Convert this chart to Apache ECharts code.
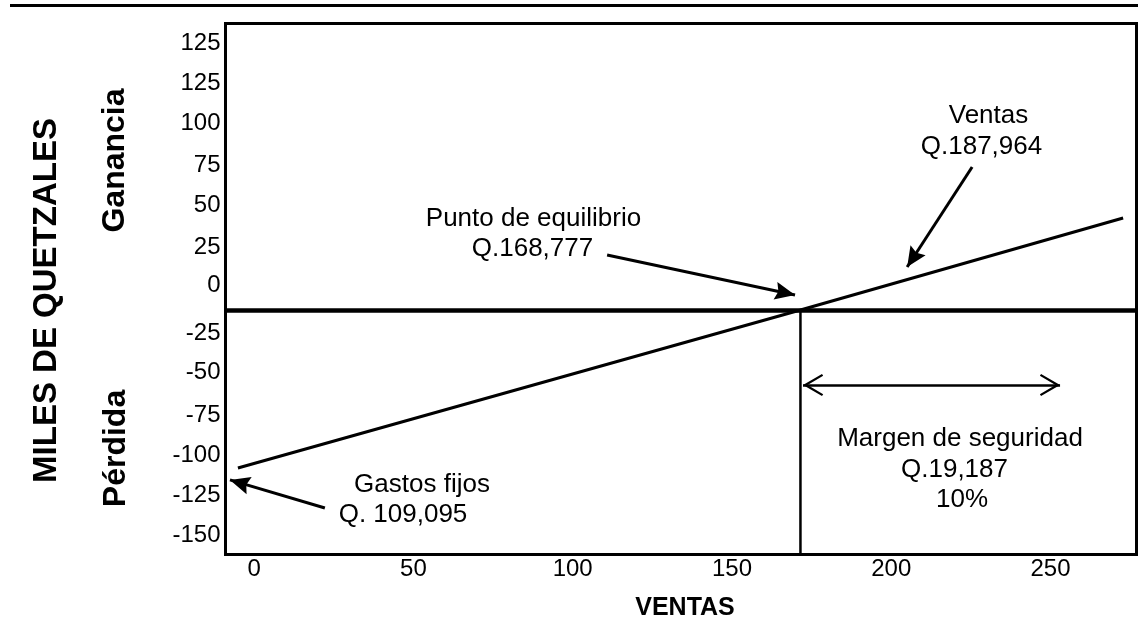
<!DOCTYPE html>
<html><head><meta charset="utf-8">
<script src="https://cdn.jsdelivr.net/npm/echarts@6/dist/echarts.min.js"></script>
<style>html,body{margin:0;padding:0;background:#fff}#c{width:1140px;height:626px}</style>
</head><body><div id="c"></div>
<script>
// ---- data (thousands of quetzales) ----
const xTickValues = [0, 50, 100, 150, 200, 250];
const yTickLabels = ['125','125','100','75','50','25','0','-25','-50','-75','-100','-125','-150'];
const yTickPositions = [165.4, 140.6, 115.9, 89.8, 65.1, 39.0, 15.5, -14.3, -38.4, -65.1, -89.8, -114.6, -139.4];
const resultX = [-5.1, 171.5, 272.8];
const resultY = [-97.9, 0, 57.0];
const breakEvenX = 171.5;
const zeroLineY = 0;
// annotation arrows: [fromX, fromY, tipX, tipY]
const arrowPunto  = [110.8, 34.1, 169.8, 9.3];
const arrowVentas = [225.4, 88.6, 205.0, 26.6];
const arrowGastos = [22.2, -122.7, -7.6, -105.3];
const marginArrow = [172.3, 253.0, -46.5]; // fromX, toX, y

const xMin = -9, xMax = 277, yMin = -151.5, yMax = 177.5;

const chart = echarts.init(document.getElementById('c'), null, {renderer: 'canvas'});
const FONT = '"Liberation Sans", Arial, Helvetica, sans-serif';
// symbols whose tip sits at the centre of their box (an invisible speck balances the box)
const headPath = 'path://M9,0 L18,20 L9,17 L0,20 Z M9,-20 L9.01,-20 L9,-19.99 Z';
const chevronPath = 'path://M11,0 L22,19 L20.2,20.2 L11,4.6 L1.8,20.2 L0,19 Z M11,-20.2 L11.01,-20.2 L11,-20.19 Z';

function arrow(a) {
  return [
    {coord: [a[0], a[1]], symbol: 'none'},
    {coord: [a[2], a[3]], symbol: headPath, symbolSize: [18, 40]}
  ];
}

const option = {
  animation: false,
  backgroundColor: '#fff',
  grid: {left: 225.5, top: 23.5, width: 911, height: 531, show: true,
         borderColor: '#000', borderWidth: 3, backgroundColor: 'transparent', containLabel: false},
  xAxis: {
    type: 'value', min: xMin, max: xMax,
    axisLine: {show: false}, axisTick: {show: false}, splitLine: {show: false},
    axisLabel: {customValues: xTickValues, color: '#000', fontSize: 24, fontFamily: FONT, margin: 3}
  },
  yAxis: {
    type: 'value', min: yMin, max: yMax,
    axisLine: {show: false}, axisTick: {show: false}, splitLine: {show: false},
    axisLabel: {
      customValues: yTickPositions, color: '#000', fontSize: 24, fontFamily: FONT, margin: 5,
      formatter: function (v) {
        let best = 0, d = Infinity;
        yTickPositions.forEach(function (p, i) { if (Math.abs(p - v) < d) { d = Math.abs(p - v); best = i; } });
        return yTickLabels[best];
      }
    }
  },
  series: [
    {
      type: 'line', name: 'Resultado', symbol: 'none', silent: true,
      data: resultX.map(function (x, i) { return [x, resultY[i]]; }),
      lineStyle: {color: '#000', width: 3}
    },
    {
      type: 'line', name: 'Equilibrio', symbol: 'none', silent: true,
      data: [[breakEvenX, zeroLineY], [breakEvenX, yMin]],
      lineStyle: {color: '#000', width: 2.5},
      markLine: {
        silent: true, animation: false, label: {show: false},
        lineStyle: {color: '#000', width: 3, type: 'solid'},
        emphasis: {disabled: true},
        data: [
          [{coord: [xMin, zeroLineY], symbol: 'none', lineStyle: {width: 4.5}},
           {coord: [xMax, zeroLineY], symbol: 'none'}],
          arrow(arrowPunto),
          arrow(arrowVentas),
          arrow(arrowGastos),
          [{coord: [marginArrow[0], marginArrow[2]], symbol: chevronPath, symbolSize: [22, 40.4], lineStyle: {width: 2.5}},
           {coord: [marginArrow[1], marginArrow[2]], symbol: chevronPath, symbolSize: [22, 40.4]}]
        ]
      }
    }
  ],
  graphic: [
    {type: 'line', silent: true, shape: {x1: 10, y1: 5.5, x2: 1138, y2: 5.5}, style: {stroke: '#000', lineWidth: 3}},
    {type: 'text', x: 47, y: 300.5, rotation: Math.PI / 2, silent: true,
     style: {text: 'MILES DE QUETZALES', font: 'bold 33px ' + FONT, fill: '#000', align: 'center', verticalAlign: 'middle'}},
    {type: 'text', x: 115.5, y: 160.5, rotation: Math.PI / 2, silent: true,
     style: {text: 'Ganancia', font: 'bold 32px ' + FONT, fill: '#000', align: 'center', verticalAlign: 'middle'}},
    {type: 'text', x: 116.5, y: 448.5, rotation: Math.PI / 2, silent: true,
     style: {text: 'Pérdida', font: 'bold 32px ' + FONT, fill: '#000', align: 'center', verticalAlign: 'middle'}},
    {type: 'text', x: 685, y: 608.5, silent: true,
     style: {text: 'VENTAS', font: 'bold 25px ' + FONT, fill: '#000', align: 'center', verticalAlign: 'middle'}},
    {type: 'text', x: 533.5, y: 219, silent: true,
     style: {text: 'Punto de equilibrio', font: '26px ' + FONT, fill: '#000', align: 'center', verticalAlign: 'middle'}},
    {type: 'text', x: 532.5, y: 249, silent: true,
     style: {text: 'Q.168,777', font: '26px ' + FONT, fill: '#000', align: 'center', verticalAlign: 'middle'}},
    {type: 'text', x: 988.5, y: 115.5, silent: true,
     style: {text: 'Ventas', font: '26px ' + FONT, fill: '#000', align: 'center', verticalAlign: 'middle'}},
    {type: 'text', x: 981.5, y: 147, silent: true,
     style: {text: 'Q.187,964', font: '26px ' + FONT, fill: '#000', align: 'center', verticalAlign: 'middle'}},
    {type: 'text', x: 422, y: 485, silent: true,
     style: {text: 'Gastos fijos', font: '26px ' + FONT, fill: '#000', align: 'center', verticalAlign: 'middle'}},
    {type: 'text', x: 403, y: 514.5, silent: true,
     style: {text: 'Q. 109,095', font: '26px ' + FONT, fill: '#000', align: 'center', verticalAlign: 'middle'}},
    {type: 'text', x: 960, y: 439, silent: true,
     style: {text: 'Margen de seguridad', font: '26px ' + FONT, fill: '#000', align: 'center', verticalAlign: 'middle'}},
    {type: 'text', x: 954.5, y: 470, silent: true,
     style: {text: 'Q.19,187', font: '26px ' + FONT, fill: '#000', align: 'center', verticalAlign: 'middle'}},
    {type: 'text', x: 962, y: 500, silent: true,
     style: {text: '10%', font: '26px ' + FONT, fill: '#000', align: 'center', verticalAlign: 'middle'}}
  ]
};
chart.setOption(option);
</script>
</body></html>
